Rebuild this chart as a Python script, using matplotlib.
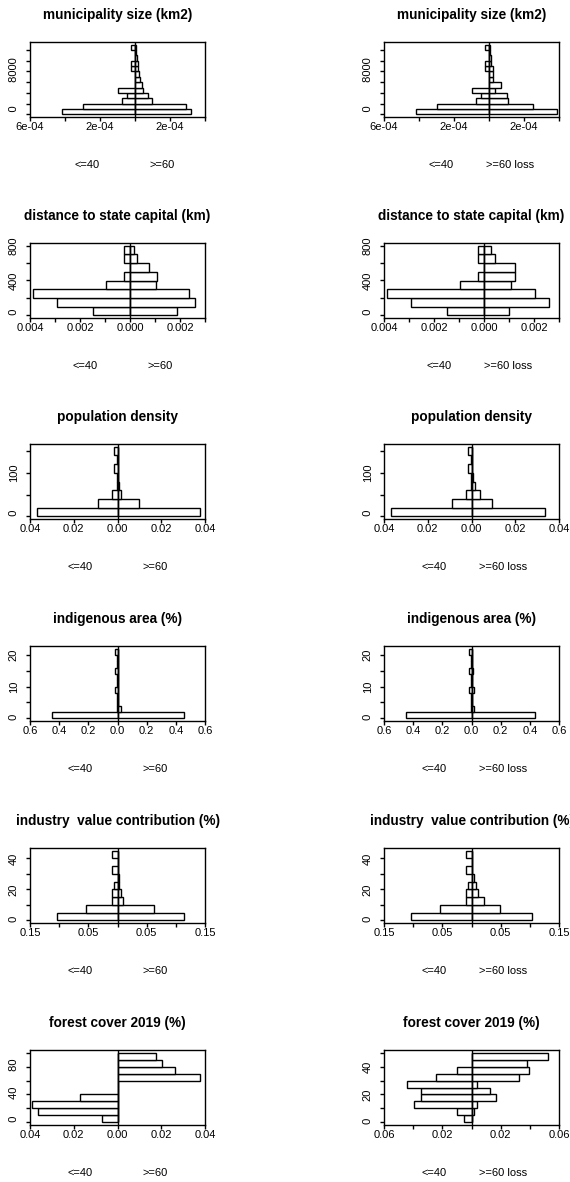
import numpy as np
import matplotlib
matplotlib.use("Agg")
import matplotlib.pyplot as plt

plt.rcParams['font.family'] = ['Liberation Sans', 'DejaVu Sans']

W, H = 570, 1182

# ---- data (densities) ----
# municipality size (km2), bins of 1000
muni_breaks = [0, 1000, 2000, 3000, 4000, 5000, 6000, 7000, 8000, 9000, 10000, 11000, 12000, 13000]
muni_le40 = [4.15e-4, 2.95e-4, 0.72e-4, 0.48e-4, 0.99e-4, 0, 0, 0, 0.25e-4, 0.25e-4, 0, 0, 0.23e-4]
muni_ge60 = [3.18e-4, 2.90e-4, 0.99e-4, 0.76e-4, 0.48e-4, 0.38e-4, 0.29e-4, 0.23e-4, 0.19e-4, 0.15e-4, 0.10e-4, 0.06e-4, 0.04e-4]
muni_loss = [3.88e-4, 2.54e-4, 1.10e-4, 1.00e-4, 0.34e-4, 0.67e-4, 0.25e-4, 0.21e-4, 0.21e-4, 0.11e-4, 0.10e-4, 0.06e-4, 0.04e-4]

# distance to state capital (km), bins of 100
dist_breaks = [0, 100, 200, 300, 400, 500, 600, 700, 800]
dist_le40 = [0.00147, 0.00293, 0.00389, 0.00097, 0.00024, 0, 0.00024, 0.00024]
dist_ge60 = [0.00187, 0.00260, 0.00236, 0.00103, 0.00109, 0.00075, 0.00027, 0.00016]
dist_loss = [0.00098, 0.00261, 0.00205, 0.00109, 0.00124, 0.00124, 0.00045, 0.00026]

# population density, bins of 20
pop_breaks = [0, 20, 40, 60, 80, 100, 120, 140, 160]
pop_le40 = [0.0370, 0.0089, 0.0027, 0.0003, 0.0002, 0.0014, 0.0001, 0.0014]
pop_ge60 = [0.0377, 0.0097, 0.0014, 0.0008, 0.0003, 0.0002, 0.0002, 0.0001]
pop_loss = [0.0336, 0.0095, 0.0041, 0.0018, 0.0006, 0.0003, 0.0002, 0.0001]

# indigenous area (%), bins of 2
ind_breaks = [0, 2, 4, 6, 8, 10, 12, 14, 16, 18, 20, 22]
ind_le40 = [0.451, 0.005, 0.002, 0.003, 0.017, 0.002, 0.003, 0.017, 0.002, 0.002, 0.017]
ind_ge60 = [0.456, 0.022, 0.006, 0.004, 0.004, 0.003, 0.003, 0.003, 0.002, 0.002, 0.002]
ind_loss = [0.436, 0.018, 0.006, 0.004, 0.014, 0.004, 0.004, 0.012, 0.003, 0.002, 0.002]

# industry value contribution (%), bins of 5
indu_breaks = [0, 5, 10, 15, 20, 25, 30, 35, 40, 45]
indu_le40 = [0.103, 0.054, 0.010, 0.009, 0.0054, 0, 0.010, 0, 0.010]
indu_ge60 = [0.1146, 0.063, 0.010, 0.0054, 0.003, 0.003, 0.001, 0.0005, 0.0005]
indu_loss = [0.104, 0.049, 0.021, 0.011, 0.007, 0.004, 0.001, 0.0015, 0.001]

# forest cover 2019 (%)
forest_breaks = [0, 10, 20, 30, 40, 50, 60, 70, 80, 90, 100]
forest_le40 = [0.0070, 0.0365, 0.0390, 0.0170, 0, 0, 0, 0, 0, 0]
forest_ge60 = [0, 0, 0, 0, 0, 0, 0.0377, 0.0262, 0.0205, 0.0175]
forest_loss_breaks = [0, 5, 10, 15, 20, 25, 30, 35, 40, 45, 50]
forest_loss_le40 = [0.0050, 0.0098, 0.0393, 0.0343, 0.0343, 0.0439, 0.0245, 0.0098, 0, 0]
forest_loss_ge60 = [0, 0.0018, 0.0037, 0.0165, 0.0128, 0.0039, 0.0327, 0.0395, 0.0380, 0.0523]

titles = ["municipality size (km2)", "distance to state capital (km)", "population density",
          "indigenous area (%)", "industry  value contribution (%)", "forest cover 2019 (%)"]

# x axis (pretty ticks, labels R kept)
muni_xt = [-6e-4, -4e-4, -2e-4, 0, 2e-4, 4e-4]
muni_xl = ["6e-04", "", "2e-04", "", "2e-04", ""]
dist_xt = [-0.004, -0.003, -0.002, -0.001, 0, 0.001, 0.002, 0.003]
dist_xl = ["0.004", "", "0.002", "", "0.000", "", "0.002", ""]
pop_xt = [-0.04, -0.02, 0, 0.02, 0.04]
pop_xl = ["0.04", "0.02", "0.00", "0.02", "0.04"]
ind_xt = [-0.6, -0.4, -0.2, 0, 0.2, 0.4, 0.6]
ind_xl = ["0.6", "0.4", "0.2", "0.0", "0.2", "0.4", "0.6"]
indu_xt = [-0.15, -0.10, -0.05, 0, 0.05, 0.10, 0.15]
indu_xl = ["0.15", "", "0.05", "", "0.05", "", "0.15"]
forest_xt = [-0.04, -0.02, 0, 0.02, 0.04]
forest_xl = ["0.04", "0.02", "0.00", "0.02", "0.04"]
forest_loss_xt = [-0.06, -0.04, -0.02, 0, 0.02, 0.04, 0.06]
forest_loss_xl = ["0.06", "", "0.02", "", "0.02", "", "0.06"]

# y axis (R format() pads labels to equal width)
muni_yt = [0, 2000, 4000, 6000, 8000, 10000, 12000]
muni_yl = ["    0", "", "", "", " 8000", "", ""]
dist_yt = [0, 200, 400, 600, 800]
dist_yl = ["  0", "", "400", "", "800"]
pop_yt = [0, 50, 100, 150]
pop_yl = ["  0", "", "100", ""]
ind_yt = [0, 5, 10, 15, 20]
ind_yl = [" 0", "", "10", "", "20"]
indu_yt = [0, 10, 20, 30, 40]
indu_yl = [" 0", "", "20", "", "40"]
forest_yt = [0, 20, 40, 60, 80, 100]
forest_yl = ["  0", "", " 40", "", " 80", ""]
forest_loss_yt = [0, 10, 20, 30, 40, 50]
forest_loss_yl = [" 0", "", "20", "", "40", ""]

# layout in pixels
row_tops = [42, 243, 444, 646, 848, 1050]
col_x0 = [30, 384]
AX_W, AX_H = 175, 75
LW = 1.0

fig = plt.figure(figsize=(W / 100, H / 100), dpi=100)
renderer = fig.canvas.get_renderer()


def histbackback(ax, breaks, left, right, xlim, xt, xl, yt, yl):
    breaks = np.asarray(breaks, float)
    h = np.diff(breaks)
    ax.barh(breaks[:-1], -np.asarray(left), height=h, align='edge',
            color='white', edgecolor='black', linewidth=LW)
    ax.barh(breaks[:-1], np.asarray(right), height=h, align='edge',
            color='white', edgecolor='black', linewidth=LW)
    ax.axvline(0, color='black', linewidth=LW)
    ax.set_xlim(xlim)
    rng = breaks[-1] - breaks[0]
    ax.set_ylim(breaks[0] - 0.04 * rng, breaks[-1] + 0.04 * rng)
    ax.set_xticks(xt)
    ax.set_xticklabels(xl, fontsize=8)
    ax.set_yticks(yt)
    ax.set_yticklabels(yl, fontsize=8, rotation=90, va='center')
    ax.tick_params(axis='x', direction='out', length=3, width=LW, pad=0.8)
    ax.tick_params(axis='y', direction='out', length=3, width=LW, pad=5)
    for s in ax.spines.values():
        s.set_linewidth(LW)


def xlab(x0, bottom, text, adj):
    # R title(xlab, adj=...) placement
    t = fig.text(0, 0, text, fontsize=8, ha='left', va='center')
    w = t.get_window_extent(renderer).width
    x = x0 + adj * AX_W - adj * w
    t.set_position((x / W, 1 - (bottom + 48) / H))


panels = [
    [(muni_breaks, muni_le40, muni_ge60, (-6e-4, 4e-4), muni_xt, muni_xl, muni_yt, muni_yl),
     (muni_breaks, muni_le40, muni_loss, (-6e-4, 4e-4), muni_xt, muni_xl, muni_yt, muni_yl)],
    [(dist_breaks, dist_le40, dist_ge60, (-0.004, 0.003), dist_xt, dist_xl, dist_yt, dist_yl),
     (dist_breaks, dist_le40, dist_loss, (-0.004, 0.003), dist_xt, dist_xl, dist_yt, dist_yl)],
    [(pop_breaks, pop_le40, pop_ge60, (-0.04, 0.04), pop_xt, pop_xl, pop_yt, pop_yl),
     (pop_breaks, pop_le40, pop_loss, (-0.04, 0.04), pop_xt, pop_xl, pop_yt, pop_yl)],
    [(ind_breaks, ind_le40, ind_ge60, (-0.6, 0.6), ind_xt, ind_xl, ind_yt, ind_yl),
     (ind_breaks, ind_le40, ind_loss, (-0.6, 0.6), ind_xt, ind_xl, ind_yt, ind_yl)],
    [(indu_breaks, indu_le40, indu_ge60, (-0.15, 0.15), indu_xt, indu_xl, indu_yt, indu_yl),
     (indu_breaks, indu_le40, indu_loss, (-0.15, 0.15), indu_xt, indu_xl, indu_yt, indu_yl)],
    [(forest_breaks, forest_le40, forest_ge60, (-0.04, 0.04), forest_xt, forest_xl, forest_yt, forest_yl),
     (forest_loss_breaks, forest_loss_le40, forest_loss_ge60, (-0.06, 0.06),
      forest_loss_xt, forest_loss_xl, forest_loss_yt, forest_loss_yl)],
]

for r, row in enumerate(panels):
    top = row_tops[r]
    for c, p in enumerate(row):
        x0 = col_x0[c]
        ax = fig.add_axes([x0 / W, 1 - (top + AX_H) / H, AX_W / W, AX_H / H])
        histbackback(ax, *p)
        fig.text((x0 + AX_W / 2) / W, 1 - (top - 27) / H, titles[r],
                 fontsize=9.8, fontweight='bold', ha='center', va='center')
        xlim = p[3]
        span = xlim[1] - xlim[0]
        adj1 = (-0.5 * xlim[0]) / span
        adj2 = (-xlim[0] + 0.5 * xlim[1]) / span
        xlab(x0, top + AX_H, "<=40", adj1)
        xlab(x0, top + AX_H, ">=60" if c == 0 else ">=60 loss", adj2)

fig.savefig("out.png", dpi=100, facecolor='white')
